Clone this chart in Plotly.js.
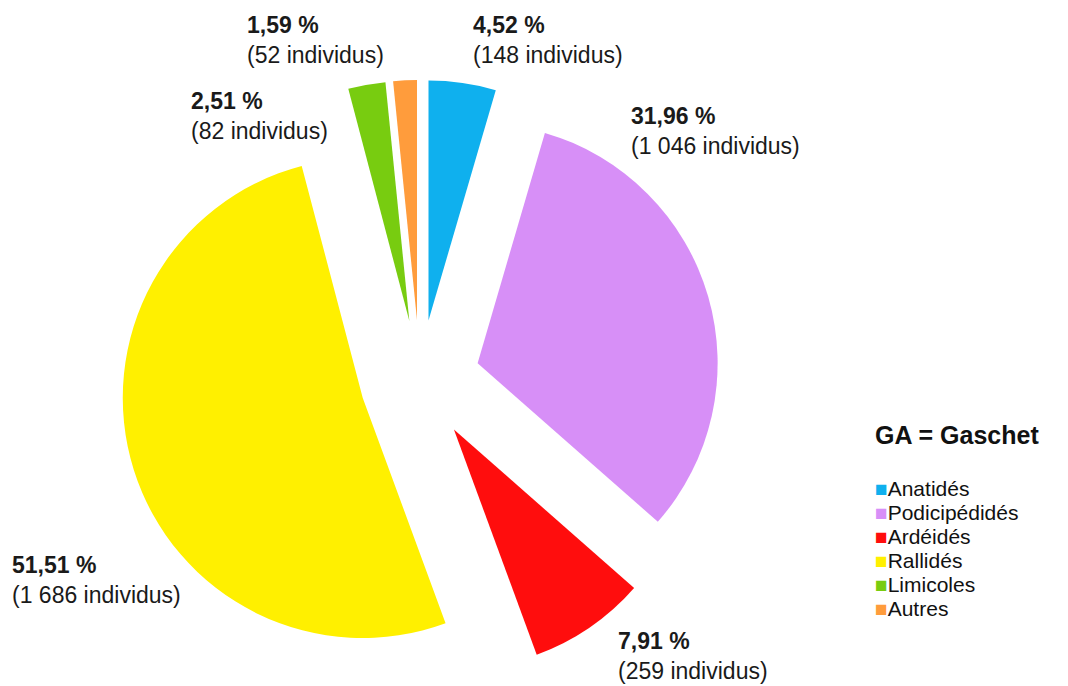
<!DOCTYPE html>
<html>
<head>
<meta charset="utf-8">
<script src="https://cdn.plot.ly/plotly-3.0.1.min.js"></script>
<style>html,body{margin:0;padding:0;background:#fff;}#chart{width:1068px;height:686px;}</style>
</head>
<body>
<div id="chart"></div>
<script>
const categories = ["Anatidés", "Podicipédidés", "Ardéidés", "Rallidés", "Limicoles", "Autres"];
const counts = [148, 1046, 259, 1686, 82, 52];
const percentLabels = ["4,52 %", "31,96 %", "7,91 %", "51,51 %", "2,51 %", "1,59 %"];
const countLabels = ["(148 individus)", "(1 046 individus)", "(259 individus)", "(1 686 individus)", "(82 individus)", "(52 individus)"];
const colors = ["#0fb0ee", "#d78ff7", "#ff0d0d", "#fff000", "#78cc10", "#ff9c3c"];
const legendTitle = "GA = Gaschet";

const W = 1068, H = 686;
const px = x => x / W;
const py = y => 1 - y / H;
const FONT = "Liberation Sans, Arial, Helvetica, sans-serif";

// label placements (pixel positions of left edge / vertical middle)
const labelPos = [
  [471, 40], [629, 131], [616, 656], [10, 580], [189, 116], [245, 40]
];

const annotations = [];
categories.forEach((c, i) => {
  annotations.push({
    xref: "paper", yref: "paper",
    x: px(labelPos[i][0]), y: py(labelPos[i][1]),
    xanchor: "left", yanchor: "middle", align: "left",
    showarrow: false,
    text: "<b>" + percentLabels[i] + "</b><br>" + countLabels[i],
    font: {family: FONT, size: 23, color: "#1a1a1a"}
  });
});

annotations.push({
  xref: "paper", yref: "paper", x: px(873), y: py(435),
  xanchor: "left", yanchor: "middle", showarrow: false,
  text: "<b>" + legendTitle + "</b>",
  font: {family: FONT, size: 25, color: "#111"}
});
categories.forEach((c, i) => {
  annotations.push({
    xref: "paper", yref: "paper", x: px(874), y: py(488 + i * 24),
    xanchor: "left", yanchor: "middle", showarrow: false,
    borderpad: 0,
    text: '<span style="color:' + colors[i] + '">■</span>' + c,
    font: {family: FONT, size: 21, color: "#111"}
  });
});

const data = [{
  type: "pie",
  labels: categories,
  values: counts,
  sort: false,
  direction: "clockwise",
  rotation: 0,
  pull: categories.map(() => 0.25),
  marker: {colors: colors, line: {width: 0}},
  textinfo: "none",
  hoverinfo: "label+value+percent",
  showlegend: false,
  domain: {x: [px(120), px(720)], y: [py(680), py(80)]}
}];

const layout = {
  width: W, height: H,
  margin: {l: 0, r: 0, t: 0, b: 0},
  paper_bgcolor: "#fff",
  showlegend: false,
  annotations: annotations
};

Plotly.newPlot("chart", data, layout, {displayModeBar: false, staticPlot: true});
</script>
</body>
</html>
